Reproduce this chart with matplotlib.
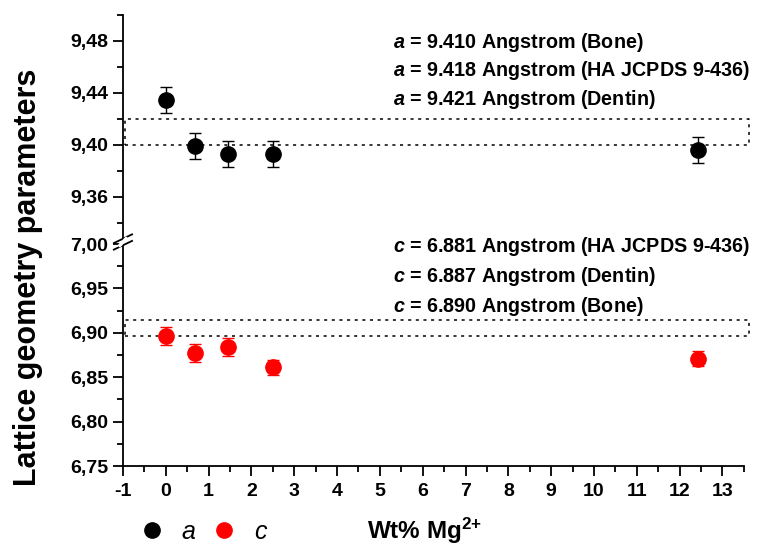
import matplotlib
matplotlib.use("Agg")
import matplotlib.pyplot as plt
from matplotlib.lines import Line2D
from matplotlib.ticker import MultipleLocator, FormatStrFormatter, FuncFormatter

plt.rcParams['font.family'] = ['Liberation Sans', 'DejaVu Sans']
plt.rcParams['mathtext.fontset'] = 'custom'
plt.rcParams['mathtext.rm'] = 'Liberation Sans:bold'
plt.rcParams['mathtext.it'] = 'Liberation Sans:bold:italic'
plt.rcParams['mathtext.bf'] = 'Liberation Sans:bold'

# data
mg_wt = [0.0, 0.68, 1.46, 2.5, 12.44]
a_vals = [9.4345, 9.399, 9.393, 9.393, 9.396]
a_err = [0.010, 0.010, 0.010, 0.010, 0.010]
c_vals = [6.896, 6.8775, 6.884, 6.861, 6.871]
c_err = [0.010, 0.010, 0.010, 0.008, 0.008]

a_band = (9.400, 9.420)
c_band = (6.896, 6.914)

a_notes = ["9.410 Angstrom (Bone)", "9.418 Angstrom (HA JCPDS 9-436)", "9.421 Angstrom (Dentin)"]
c_notes = ["6.881 Angstrom (HA JCPDS 9-436)", "6.887 Angstrom (Dentin)", "6.890 Angstrom (Bone)"]

fig = plt.figure(figsize=(7.59, 5.46), dpi=100)
left, right = 0.162, 0.980
ax_top = fig.add_axes([left, 0.5568, right - left, 0.9725 - 0.5568])
ax_bot = fig.add_axes([left, 0.1465, right - left, 0.5531 - 0.1465], sharex=ax_top)

comma = FuncFormatter(lambda v, p: ("%.2f" % v).replace(".", ","))

for ax in (ax_top, ax_bot):
    for s in ("top", "right"):
        ax.spines[s].set_visible(False)
    ax.spines["left"].set_linewidth(1.3)
    ax.tick_params(axis="y", which="major", length=7, width=1.3, labelsize=14)
    ax.tick_params(axis="y", which="minor", length=4, width=1.3)
    ax.yaxis.set_major_formatter(comma)

ax_top.spines["bottom"].set_visible(False)
ax_top.tick_params(axis="x", which="both", bottom=False, labelbottom=False)
ax_top.set_ylim(9.325, 9.50)
ax_top.yaxis.set_major_locator(MultipleLocator(0.04))
ax_top.yaxis.set_minor_locator(MultipleLocator(0.02))

ax_bot.set_ylim(6.75, 7.00)
ax_bot.yaxis.set_major_locator(MultipleLocator(0.05))
ax_bot.yaxis.set_minor_locator(MultipleLocator(0.025))
ax_bot.set_xlim(-1, 13.5)
ax_bot.xaxis.set_major_locator(MultipleLocator(1))
ax_bot.xaxis.set_minor_locator(MultipleLocator(0.5))
ax_bot.spines["bottom"].set_linewidth(1.3)
ax_bot.tick_params(axis="x", which="major", length=7, width=1.3, labelsize=14, pad=5)
ax_bot.tick_params(axis="x", which="minor", length=4, width=1.3)
ax_bot.xaxis.set_major_formatter(FormatStrFormatter("%d"))
for lab in ax_bot.get_xticklabels() + ax_bot.get_yticklabels() + ax_top.get_yticklabels():
    lab.set_fontweight("bold")

ax_top.errorbar(mg_wt, a_vals, yerr=a_err, fmt="o", color="black", ms=11,
                ecolor="black", elinewidth=1, capsize=4, capthick=1, zorder=3)
ax_bot.errorbar(mg_wt, c_vals, yerr=c_err, fmt="o", color="red", ms=11,
                ecolor="red", elinewidth=1, capsize=4, capthick=1, zorder=3)

# dotted reference bands
def band(ax, lo, hi):
    x0, x1 = -0.95, 13.63
    xs = [x0, x1, x1, x0, x0]
    ys = [lo, lo, hi, hi, lo]
    ax.plot(xs, ys, ls=(0, (2, 3)), color="black", lw=1.1, clip_on=False, zorder=2)

band(ax_top, *a_band)
band(ax_bot, *c_band)

# axis break mark on the left spine
bx = left
by = 1 - 242 / 546
for dy in (-0.006, 0.006):
    fig.add_artist(Line2D([bx - 0.012, bx + 0.012], [by + dy - 0.008, by + dy + 0.008],
                          color="black", lw=1.3))
fig.add_artist(Line2D([bx - 0.004, bx + 0.004], [by - 0.006, by + 0.006], color="white", lw=2.5))

ytxt_a = [0.923, 0.870, 0.817]
ytxt_c = [0.548, 0.493, 0.438]
for t, y in zip(a_notes, ytxt_a):
    fig.text(0.518, y, r"$a$ = " + t, fontsize=14.2, fontweight="bold", va="center")
for t, y in zip(c_notes, ytxt_c):
    fig.text(0.518, y, r"$c$ = " + t, fontsize=14.2, fontweight="bold", va="center")

fig.text(0.037, 0.493, "Lattice geometry parameters", rotation=90, fontsize=22,
         fontweight="bold", ha="center", va="center")
fig.text(0.560, 0.028, r"Wt% Mg$^{2{+}}$", fontsize=17.5, fontweight="bold",
         ha="center", va="center")

handles = [Line2D([], [], ls="none", marker="o", color="black", ms=11),
           Line2D([], [], ls="none", marker="o", color="red", ms=11)]
fig.legend(handles, ["a", "c"], loc="center left", bbox_to_anchor=(0.1634, 0.026),
           ncol=2, frameon=False, borderpad=0, handletextpad=0.6, columnspacing=0.56,
           handlelength=1.2, prop={"style": "italic", "size": 18})

fig.savefig("out.png", dpi=100)
